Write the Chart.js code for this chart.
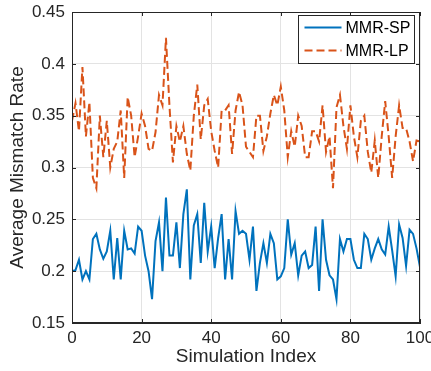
<!DOCTYPE html>
<html lang="en">
<head>
<meta charset="UTF-8">
<title>Average Mismatch Rate</title>
<script src="https://cdn.jsdelivr.net/npm/chart.js"></script>
<style>
  html, body { margin: 0; padding: 0; background: #fff; }
  #wrap { width: 431px; height: 371px; }
</style>
</head>
<body>
<div id="wrap"><canvas id="c" width="431" height="371"></canvas></div>
<script>
// series names (legend)
const seriesNames = ['MMR-SP', 'MMR-LP'];

// values, one per simulation index 0..100
const mmrSP = [
  0.200, 0.201, 0.211, 0.192, 0.200, 0.192, 0.231, 0.236, 0.221, 0.212,
  0.219, 0.239, 0.192, 0.232, 0.192, 0.239, 0.221, 0.222, 0.217, 0.243,
  0.239, 0.215, 0.200, 0.173, 0.229, 0.247, 0.200, 0.271, 0.215, 0.215,
  0.247, 0.203, 0.255, 0.279, 0.192, 0.244, 0.255, 0.208, 0.266, 0.219,
  0.243, 0.203, 0.232, 0.255, 0.192, 0.231, 0.192, 0.258, 0.236, 0.239,
  0.236, 0.211, 0.243, 0.181, 0.208, 0.227, 0.208, 0.236, 0.227, 0.192,
  0.195, 0.203, 0.250, 0.216, 0.227, 0.196, 0.215, 0.219, 0.203, 0.206,
  0.243, 0.181, 0.250, 0.211, 0.196, 0.192, 0.173, 0.231, 0.219, 0.231,
  0.231, 0.211, 0.203, 0.203, 0.236, 0.231, 0.211, 0.222, 0.231, 0.221,
  0.216, 0.243, 0.220, 0.195, 0.245, 0.232, 0.205, 0.240, 0.236, 0.222,
  0.204
];
const mmrLP = [
  0.345, 0.362, 0.335, 0.397, 0.330, 0.363, 0.290, 0.280, 0.350, 0.310,
  0.345, 0.300, 0.318, 0.325, 0.355, 0.290, 0.368, 0.350, 0.310, 0.330,
  0.352, 0.340, 0.318, 0.316, 0.334, 0.370, 0.360, 0.425, 0.360, 0.305,
  0.340, 0.325, 0.340, 0.313, 0.297, 0.350, 0.380, 0.327, 0.360, 0.366,
  0.335, 0.316, 0.300, 0.355, 0.355, 0.360, 0.313, 0.355, 0.373, 0.360,
  0.320, 0.315, 0.310, 0.350, 0.350, 0.316, 0.330, 0.352, 0.370, 0.360,
  0.378, 0.355, 0.310, 0.335, 0.320, 0.350, 0.340, 0.310, 0.310, 0.335,
  0.335, 0.325, 0.360, 0.315, 0.330, 0.280, 0.358, 0.370, 0.340, 0.318,
  0.360, 0.330, 0.310, 0.345, 0.350, 0.315, 0.295, 0.326, 0.290, 0.330,
  0.364, 0.330, 0.290, 0.330, 0.360, 0.338, 0.338, 0.325, 0.306, 0.326,
  0.325
];

// axis ticks
const xTicks = [0, 20, 40, 60, 80, 100];
const yTicks = [0.15, 0.2, 0.25, 0.3, 0.35, 0.4, 0.45];

const axisColor = '#262626';
const gridColor = '#e3e3e3';
const fontFam = "'Liberation Sans', Arial, Helvetica, sans-serif";

// box around the plot, inner tick marks and the legend
const matlabFrame = {
  id: 'matlabFrame',
  afterDraw(chart) {
    const ctx = chart.ctx;
    const a = chart.chartArea;
    const xs = chart.scales.x, ys = chart.scales.y;
    ctx.save();
    ctx.strokeStyle = axisColor;
    ctx.lineWidth = 1;
    ctx.strokeRect(Math.round(a.left) + 0.5, Math.round(a.top) + 0.5,
                   Math.round(a.right - a.left) - 1, Math.round(a.bottom - a.top) - 1);
    ctx.beginPath();
    xTicks.forEach(v => {
      const px = Math.round(xs.getPixelForValue(v)) + 0.5;
      ctx.moveTo(px, a.bottom); ctx.lineTo(px, a.bottom - 4);
      ctx.moveTo(px, a.top); ctx.lineTo(px, a.top + 4);
    });
    yTicks.forEach(v => {
      const py = Math.round(ys.getPixelForValue(v)) + 0.5;
      ctx.moveTo(a.left, py); ctx.lineTo(a.left + 4, py);
      ctx.moveTo(a.right, py); ctx.lineTo(a.right - 4, py);
    });
    ctx.stroke();

    // legend
    const lw = 116, lh = 48;
    const lx = Math.round(a.right - 6 - lw) + 0.5;
    const ly = Math.round(a.top + 3) + 0.5;
    ctx.fillStyle = '#fff';
    ctx.fillRect(lx, ly, lw, lh);
    ctx.strokeStyle = axisColor;
    ctx.strokeRect(lx, ly, lw, lh);
    ctx.font = '16px ' + fontFam;
    ctx.textBaseline = 'middle';
    chart.data.datasets.forEach((ds, i) => {
      const yy = ly + 12 + i * 23;
      ctx.strokeStyle = ds.borderColor;
      ctx.lineWidth = ds.borderWidth;
      ctx.setLineDash(ds.borderDash || []);
      ctx.beginPath();
      ctx.moveTo(lx + 6, yy); ctx.lineTo(lx + 43, yy);
      ctx.stroke();
      ctx.setLineDash([]);
      ctx.fillStyle = '#000';
      ctx.fillText(ds.label, lx + 47, yy + 1);
    });
    ctx.restore();
  }
};

const ctx = document.getElementById('c').getContext('2d');
new Chart(ctx, {
  type: 'line',
  data: {
    datasets: [
      {
        label: seriesNames[0],
        data: mmrSP.map((v, i) => ({ x: i, y: v })),
        borderColor: '#0072BD',
        borderWidth: 2,
        pointRadius: 0,
        tension: 0
      },
      {
        label: seriesNames[1],
        data: mmrLP.map((v, i) => ({ x: i, y: v })),
        borderColor: '#D95319',
        borderWidth: 2,
        borderDash: [8, 4],
        pointRadius: 0,
        tension: 0
      }
    ]
  },
  options: {
    responsive: false,
    animation: false,
    layout: { padding: { top: 12, right: 11, left: 0, bottom: 0 } },
    plugins: {
      legend: { display: false },
      tooltip: { enabled: false }
    },
    scales: {
      x: {
        type: 'linear',
        min: 0,
        max: 100,
        afterBuildTicks: s => { s.ticks = xTicks.map(v => ({ value: v })); },
        afterFit: s => { s.height = 48; s.paddingLeft = 0; s.paddingRight = 0; },
        grid: { color: gridColor, drawTicks: false },
        border: { display: true, color: axisColor },
        ticks: { color: axisColor, padding: 5, font: { family: fontFam, size: 17 } },
        title: {
          display: true,
          text: 'Simulation Index',
          color: axisColor,
          font: { family: fontFam, size: 19 },
          padding: { top: 0, bottom: 3 }
        }
      },
      y: {
        min: 0.15,
        max: 0.45,
        afterBuildTicks: s => { s.ticks = yTicks.map(v => ({ value: v })); },
        afterFit: s => { s.width = 72; s.paddingTop = 0; s.paddingBottom = 0; },
        grid: { color: gridColor, drawTicks: false },
        border: { display: true, color: axisColor },
        ticks: {
          color: axisColor,
          padding: 7,
          font: { family: fontFam, size: 17 },
          callback: v => String(+v.toFixed(2))
        },
        title: {
          display: true,
          text: 'Average Mismatch Rate',
          color: axisColor,
          font: { family: fontFam, size: 19 },
          padding: { top: 6, bottom: 0 }
        }
      }
    }
  },
  plugins: [matlabFrame]
});
</script>
</body>
</html>
